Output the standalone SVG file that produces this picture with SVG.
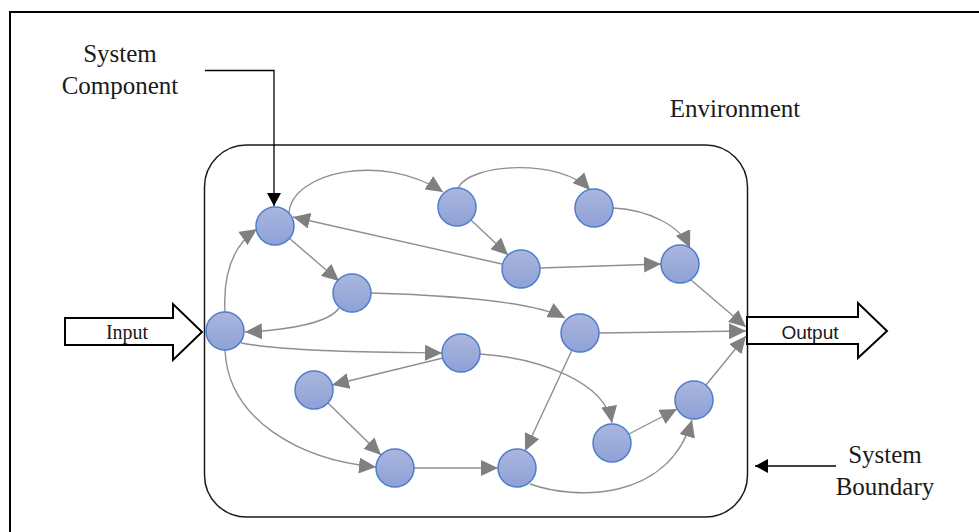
<svg xmlns="http://www.w3.org/2000/svg" width="979" height="532" viewBox="0 0 979 532">
  <style>
    .frame { fill: none; stroke: #000; stroke-width: 2; }
    .boundary { fill: none; stroke: #1a1a1a; stroke-width: 1.5; }
    .edge { fill: none; stroke: #8f8f8f; stroke-width: 1.4; marker-end: url(#gray-head); }
    .node { fill: url(#node-fill); stroke: #4f7ccc; stroke-width: 1.5; }
    .label { font-family: "Liberation Serif", "Times New Roman", serif; font-size: 25px; fill: #1a1a1a; }
    .io-arrow { fill: #fff; stroke: #000; stroke-width: 2; stroke-linejoin: miter; }
    .leader { fill: none; stroke: #000; stroke-width: 1.3; }
  </style>
  <defs>
    <linearGradient id="node-fill" x1="0" y1="0" x2="0" y2="1">
      <stop offset="0" stop-color="#aab6de"/>
      <stop offset="1" stop-color="#8ea1d6"/>
    </linearGradient>
    <marker id="gray-head" markerUnits="userSpaceOnUse" markerWidth="18" markerHeight="16" refX="17" refY="8" orient="auto">
      <path d="M0,0 L17,8 L0,16 z" fill="#808080"/>
    </marker>
    <marker id="black-head" markerUnits="userSpaceOnUse" markerWidth="14" markerHeight="14" refX="13" refY="7" orient="auto">
      <path d="M0,0 L13,7 L0,14 z" fill="#000"/>
    </marker>
  </defs>

  <rect width="979" height="532" fill="#fff"/>
  <!-- outer frame -->
  <path class="frame" d="M10,532 L10,12 L979,12"/>

  <!-- system boundary -->
  <rect class="boundary" x="204.5" y="145" width="543" height="372" rx="42" ry="42"/>

  <!-- input / output arrows -->
  <g id="input">
    <path class="io-arrow" d="M65,318 L173,318 L173,304 L202,332 L173,360 L173,345 L65,345 z"/>
    <text x="127" y="339" text-anchor="middle" style="font-family:'Liberation Serif','Times New Roman',serif;font-size:20px;fill:#1a1a1a">Input</text>
  </g>
  <g id="output">
    <path class="io-arrow" d="M747,317 L858,317 L858,303 L887,331 L858,358 L858,344 L747,344 z"/>
    <text x="810" y="339" text-anchor="middle" style="font-family:'Liberation Sans',Arial,sans-serif;font-size:19px;fill:#1a1a1a">Output</text>
  </g>

  <!-- connectors -->
  <g id="connectors">
    <path class="edge" d="M225,312 C223,276 232,246 257,229"/>
    <path class="edge" d="M289,213 C292,172 382,152 443,192"/>
    <path class="edge" d="M458,188 C470,163 560,158 590,190"/>
    <path class="edge" d="M613,208 C650,210 680,226 690,248"/>
    <path class="edge" d="M471,220 L508,255"/>
    <path class="edge" d="M502,264 L293,217"/>
    <path class="edge" d="M540,268 L661,264"/>
    <path class="edge" d="M289,238 L339,281"/>
    <path class="edge" d="M339,308 C330,322 292,330 245,332"/>
    <path class="edge" d="M371,293 C440,295 530,300 565,318"/>
    <path class="edge" d="M691,280 L746,327"/>
    <path class="edge" d="M599,333 L746,331"/>
    <path class="edge" d="M706,385 L746,336"/>
    <path class="edge" d="M241,343 C290,352 380,352 442,353"/>
    <path class="edge" d="M443,358 L332,385"/>
    <path class="edge" d="M225,350 C228,420 300,460 376,467"/>
    <path class="edge" d="M328,403 L381,455"/>
    <path class="edge" d="M414,468 L498,468"/>
    <path class="edge" d="M572,350 L525,451"/>
    <path class="edge" d="M480,354 C540,358 605,382 612,423"/>
    <path class="edge" d="M629,434 L677,409"/>
    <path class="edge" d="M530,484 C575,500 668,502 692,420"/>
  </g>

  <!-- components -->
  <g id="n-input"><circle class="node" cx="225" cy="331" r="19"/></g>
  <g id="n1"><circle class="node" cx="275" cy="226" r="19"/></g>
  <g id="n2"><circle class="node" cx="457" cy="207" r="19"/></g>
  <g id="n3"><circle class="node" cx="352" cy="293" r="19"/></g>
  <g id="n4"><circle class="node" cx="594" cy="208" r="19"/></g>
  <g id="n5"><circle class="node" cx="521" cy="269" r="19"/></g>
  <g id="n6"><circle class="node" cx="680" cy="264" r="19"/></g>
  <g id="n7"><circle class="node" cx="580" cy="333" r="19"/></g>
  <g id="n8"><circle class="node" cx="461" cy="353" r="19"/></g>
  <g id="n9"><circle class="node" cx="314" cy="390" r="19"/></g>
  <g id="n10"><circle class="node" cx="395" cy="468" r="19"/></g>
  <g id="n11"><circle class="node" cx="517" cy="468" r="19"/></g>
  <g id="n12"><circle class="node" cx="612" cy="443" r="19"/></g>
  <g id="n13"><circle class="node" cx="694" cy="400" r="19"/></g>

  <!-- annotations -->
  <g id="label-component">
    <text class="label" x="120" y="62" text-anchor="middle">System</text>
    <text class="label" x="120" y="94" text-anchor="middle">Component</text>
    <path class="leader" d="M205,70.5 L274,70.5 L274,206" marker-end="url(#black-head)"/>
  </g>
  <g id="label-environment">
    <text class="label" x="735" y="117" text-anchor="middle">Environment</text>
  </g>
  <g id="label-boundary">
    <text class="label" x="885" y="463" text-anchor="middle">System</text>
    <text class="label" x="885" y="495" text-anchor="middle">Boundary</text>
    <path class="leader" d="M836,466 L755,466" marker-end="url(#black-head)"/>
  </g>
</svg>
